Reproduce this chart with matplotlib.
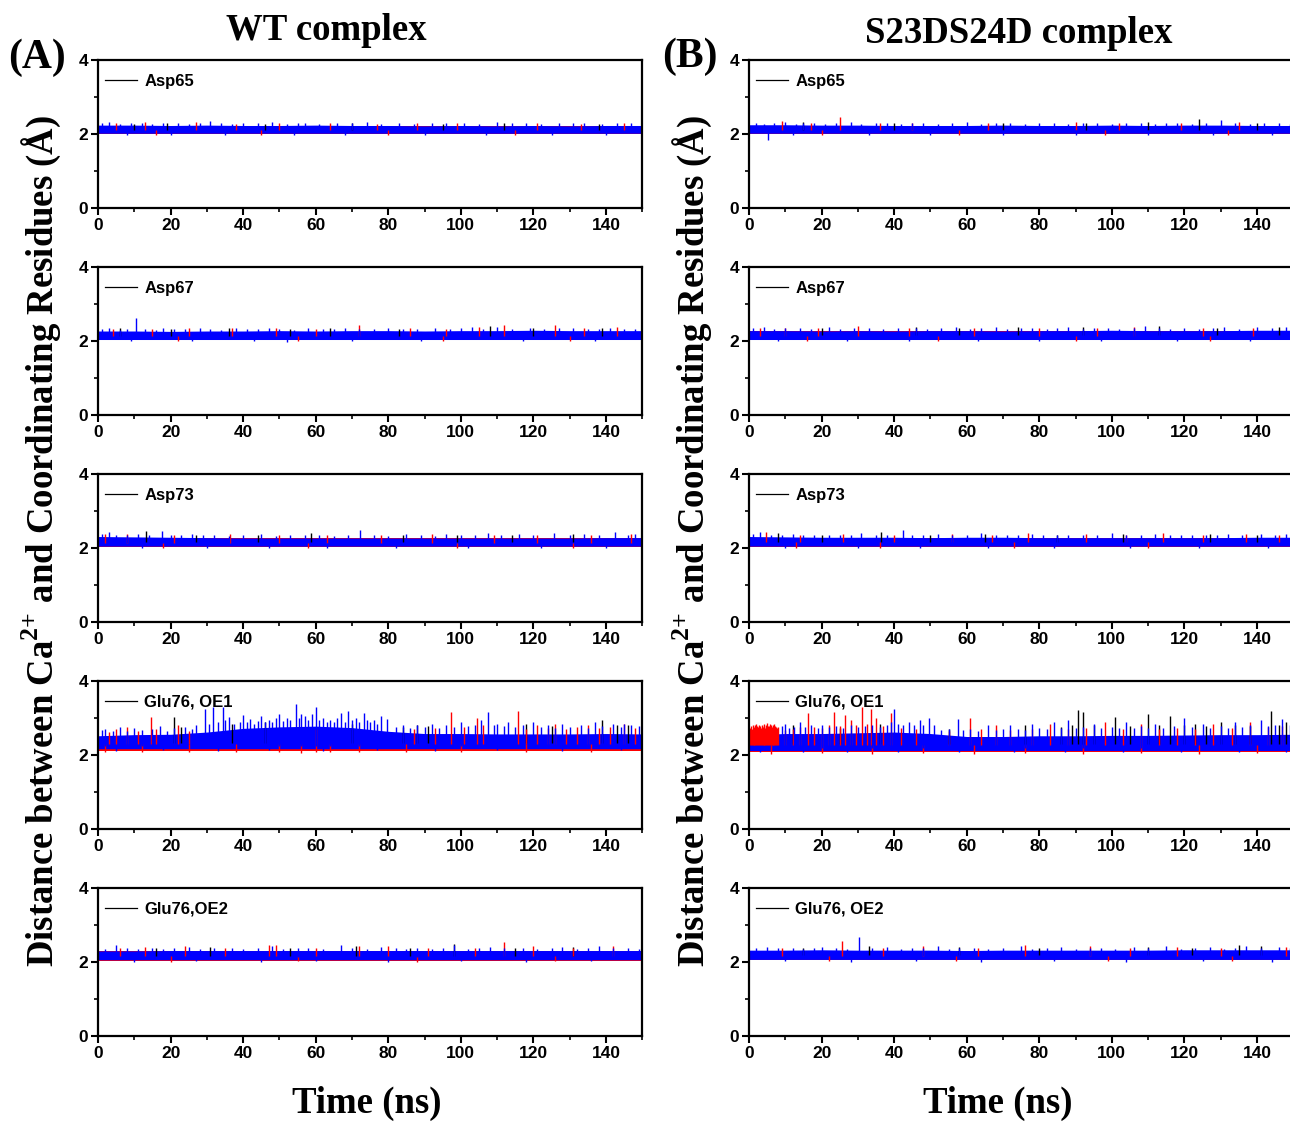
import matplotlib
matplotlib.use("Agg")
import matplotlib.pyplot as plt
from matplotlib.lines import Line2D
from matplotlib.ticker import MultipleLocator

# ---- data (distances in angstrom, time in ns) ----
band_t = [0, 10, 20, 30, 40, 50, 60, 70, 80, 90, 100, 110, 120, 130, 140, 150]

residues_wt = ["Asp65", "Asp67", "Asp73", "Glu76, OE1", "Glu76,OE2"]
residues_mut = ["Asp65", "Asp67", "Asp73", "Glu76, OE1", "Glu76, OE2"]

# top of the dense blue band at each band_t
wt_blue_top = [
    [2.24, 2.24, 2.23, 2.24, 2.23, 2.23, 2.24, 2.23, 2.23, 2.22, 2.23, 2.22, 2.23, 2.22, 2.23, 2.23],
    [2.27, 2.27, 2.26, 2.27, 2.27, 2.28, 2.27, 2.28, 2.28, 2.27, 2.28, 2.28, 2.29, 2.28, 2.28, 2.28],
    [2.31, 2.30, 2.29, 2.28, 2.27, 2.27, 2.27, 2.27, 2.27, 2.27, 2.27, 2.27, 2.27, 2.27, 2.28, 2.28],
    [2.52, 2.55, 2.56, 2.62, 2.72, 2.76, 2.78, 2.74, 2.64, 2.58, 2.58, 2.57, 2.57, 2.57, 2.58, 2.57],
    [2.30, 2.30, 2.31, 2.31, 2.31, 2.31, 2.31, 2.31, 2.31, 2.31, 2.31, 2.31, 2.31, 2.31, 2.31, 2.31],
]
mut_blue_top = [
    [2.25, 2.25, 2.24, 2.24, 2.23, 2.23, 2.23, 2.24, 2.23, 2.23, 2.24, 2.23, 2.24, 2.24, 2.23, 2.23],
    [2.28, 2.28, 2.27, 2.28, 2.27, 2.28, 2.28, 2.27, 2.28, 2.28, 2.29, 2.28, 2.28, 2.28, 2.29, 2.29],
    [2.31, 2.30, 2.29, 2.29, 2.29, 2.28, 2.29, 2.29, 2.28, 2.28, 2.28, 2.28, 2.28, 2.28, 2.29, 2.29],
    [2.55, 2.58, 2.58, 2.60, 2.62, 2.58, 2.50, 2.50, 2.52, 2.52, 2.53, 2.53, 2.54, 2.55, 2.55, 2.56],
    [2.32, 2.32, 2.33, 2.32, 2.32, 2.32, 2.31, 2.32, 2.32, 2.32, 2.32, 2.32, 2.33, 2.33, 2.33, 2.33],
]
wt_blue_bottom = [2.02, 2.04, 2.05, 2.17, 2.06]
mut_blue_bottom = [2.02, 2.04, 2.05, 2.12, 2.07]

# (bottom, top) of the red and black bands, mostly hidden under the blue one
wt_red_band = [(2.00, 2.21), (2.02, 2.25), (2.03, 2.26), (2.11, 2.50), (2.04, 2.29)]
wt_black_band = [(2.02, 2.21), (2.04, 2.25), (2.05, 2.26), (2.15, 2.50), (2.06, 2.29)]
mut_red_band = [(2.00, 2.22), (2.02, 2.26), (2.03, 2.27), (2.08, 2.48), (2.05, 2.30)]
mut_black_band = [(2.02, 2.22), (2.04, 2.26), (2.05, 2.27), (2.12, 2.48), (2.07, 2.30)]

# single excursions above / below the band (time, distance)
wt_blue_spikes = [
    [(1, 2.30), (3, 2.33), (6, 2.28), (9, 2.29), (12, 2.30), (15, 2.27), (18, 2.29), (22, 2.31),
     (25, 2.28), (28, 2.30), (31, 2.36), (34, 2.29), (37, 2.28), (40, 2.30), (44, 2.29), (48, 2.32),
     (52, 2.28), (55, 2.29), (57, 2.30), (61, 2.28), (66, 2.31), (70, 2.29), (74, 2.33), (78, 2.28),
     (83, 2.30), (87, 2.28), (92, 2.31), (96, 2.29), (101, 2.30), (105, 2.28), (110, 2.32), (114, 2.29),
     (118, 2.31), (122, 2.28), (127, 2.30), (131, 2.29), (134, 2.31), (139, 2.28), (143, 2.30), (147, 2.29),
     (8, 1.97), (20, 1.98), (35, 1.97), (54, 1.98), (68, 1.97), (90, 1.98), (107, 1.97), (125, 1.98), (140, 1.97)],
    [(1, 2.33), (3, 2.35), (6, 2.31), (8, 2.33), (10.5, 2.62), (13, 2.32), (16, 2.31), (18, 2.34),
     (21, 2.32), (24, 2.33), (28, 2.36), (31, 2.32), (34, 2.31), (38, 2.35), (41, 2.32), (44, 2.33),
     (47, 2.36), (50, 2.32), (54, 2.31), (58, 2.34), (62, 2.32), (65, 2.33), (68, 2.35), (72, 2.32),
     (76, 2.33), (80, 2.36), (84, 2.32), (88, 2.33), (93, 2.35), (97, 2.32), (100, 2.34), (103, 2.37),
     (106, 2.33), (110, 2.38), (114, 2.33), (119, 2.35), (123, 2.32), (127, 2.34), (131, 2.34),
     (135, 2.32), (138, 2.33), (141, 2.36), (145, 2.33), (148, 2.32),
     (9, 2.00), (26, 1.99), (43, 2.00), (52, 1.98), (70, 2.00), (89, 1.99), (117, 2.00), (137, 1.99)],
    [(1, 2.38), (3, 2.42), (5, 2.36), (8, 2.35), (11, 2.37), (14, 2.35), (17.7, 2.46), (20, 2.34),
     (23, 2.36), (26, 2.38), (29, 2.34), (32, 2.35), (36, 2.33), (40, 2.35), (45, 2.37), (49, 2.33),
     (53, 2.35), (57, 2.34), (61, 2.36), (65, 2.33), (69, 2.35), (72.2, 2.50), (76, 2.34), (80, 2.33),
     (85, 2.38), (89, 2.34), (93, 2.33), (96, 2.37), (100, 2.34), (104, 2.35), (107.5, 2.41), (111, 2.34),
     (116, 2.37), (120, 2.34), (125.7, 2.40), (130, 2.35), (134, 2.37), (138, 2.34), (142.5, 2.42),
     (146, 2.36), (148, 2.38),
     (12, 2.01), (30, 2.00), (47, 2.01), (63, 2.00), (82, 2.01), (102, 2.00), (122, 2.01), (140, 2.00)],
    [(1, 2.68), (2, 2.70), (4, 2.65), (6, 2.75), (8, 2.66), (10, 2.72), (12, 2.68), (15, 2.70),
     (17, 2.78), (19, 2.66), (21, 2.72), (24, 2.75), (26, 2.70), (27, 2.80), (29.4, 3.24),
     (30.5, 2.85), (31.7, 3.29), (33, 2.90), (34.4, 3.29), (35, 2.95), (36, 3.04), (37.5, 2.85),
     (39, 2.90), (40, 3.08), (41, 2.88), (42, 2.98), (43, 2.85), (44, 2.92), (45, 3.05), (46, 2.90),
     (47, 2.95), (48, 2.88), (49, 3.00), (50, 3.10), (51, 2.92), (52, 3.00), (53, 2.95), (54.7, 3.37),
     (55.5, 3.00), (56, 3.10), (57, 3.05), (58, 2.95), (59, 3.10), (60, 3.29), (61, 2.95), (62, 3.00),
     (63, 2.90), (64, 2.95), (65, 2.88), (66, 3.00), (67, 3.13), (68, 2.90), (69, 3.20), (70, 2.95),
     (71, 3.00), (72, 2.90), (73.3, 3.13), (74, 2.95), (75, 2.88), (76, 2.95), (77, 2.85), (78, 3.05),
     (79.7, 2.96), (82, 2.75), (84, 2.80), (86, 2.72), (88, 2.82), (90, 2.75), (92, 2.85), (94, 2.74),
     (96, 2.80), (98, 2.76), (100, 2.90), (102, 2.78), (104, 2.82), (105.5, 2.95), (107.4, 3.15),
     (109, 2.80), (110, 2.85), (112, 2.78), (113, 2.90), (115, 2.75), (117, 2.80), (120, 2.90),
     (122, 2.76), (124, 2.80), (126, 2.74), (128, 2.85), (130, 2.76), (133, 2.80), (135, 2.74),
     (137, 2.90), (139, 2.78), (142, 2.85), (144, 2.76), (145, 2.85), (147, 2.80), (149, 2.78),
     (5, 2.12), (18, 2.13), (33, 2.12), (47, 2.14), (62, 2.12), (77, 2.13), (93, 2.12), (110, 2.13),
     (128, 2.12), (144, 2.13)],
    [(2, 2.36), (5, 2.45), (8, 2.37), (11, 2.36), (15, 2.38), (18, 2.36), (21, 2.37), (25, 2.40),
     (28, 2.36), (32, 2.37), (37, 2.38), (40, 2.36), (44, 2.37), (48, 2.42), (51, 2.36), (55, 2.37),
     (58, 2.38), (62, 2.36), (67, 2.46), (70, 2.37), (74, 2.36), (78, 2.40), (82, 2.37), (85, 2.36),
     (88, 2.38), (92, 2.36), (95, 2.37), (98, 2.45), (102, 2.36), (105, 2.37), (108, 2.40), (112, 2.37),
     (117, 2.38), (121, 2.36), (125, 2.37), (128, 2.40), (132, 2.36), (135, 2.37), (138, 2.42),
     (142, 2.37), (146, 2.38), (149, 2.36),
     (10, 2.01), (27, 2.02), (45, 2.01), (60, 2.02), (80, 2.01), (100, 2.02), (118, 2.01), (136, 2.02)],
]
wt_red_spikes = [
    [(5, 2.29), (13, 2.33), (27, 2.32), (38, 2.28), (50, 2.31), (64, 2.29), (77, 2.28), (88, 2.31),
     (99, 2.29), (121, 2.30), (133, 2.28), (145, 2.29), (16, 1.97), (45, 1.98), (80, 1.97), (115, 1.98)],
    [(4, 2.33), (15, 2.32), (25, 2.36), (37, 2.34), (49, 2.35), (60, 2.33), (72, 2.43), (86, 2.34),
     (96, 2.33), (105, 2.37), (112, 2.43), (126, 2.42), (134, 2.34), (143, 2.39),
     (22, 1.99), (55, 1.99), (95, 1.99), (130, 1.99)],
    [(2, 2.38), (8, 2.37), (21, 2.35), (36.5, 2.39), (50, 2.35), (63, 2.36), (78, 2.35), (92, 2.37),
     (109, 2.35), (121, 2.36), (136, 2.35), (147, 2.38), (18, 2.00), (58, 2.00), (99, 2.00), (131, 2.00)],
    [(3, 2.62), (5, 2.70), (8, 2.75), (11, 2.65), (14.5, 3.04), (16, 2.70), (22, 2.80), (25, 2.65),
     (60, 2.70), (87, 2.70), (93, 2.72), (97.3, 3.17), (101, 2.75), (104.5, 2.99), (106, 2.80),
     (115.8, 3.20), (118, 2.70), (121, 2.80), (124, 2.72), (126, 2.85), (129, 2.70), (132, 2.75),
     (135, 2.80), (138, 2.72), (141, 2.75), (145, 2.85), (148, 2.72),
     (2, 2.08), (12, 2.09), (25, 2.08), (38, 2.07), (50, 2.07), (56, 2.06), (60, 2.08), (64, 2.07),
     (72, 2.08), (85, 2.07), (100, 2.09), (118, 2.08), (136, 2.07)],
    [(6, 2.37), (13, 2.40), (24, 2.44), (35, 2.38), (47, 2.47), (49, 2.45), (60, 2.37), (72, 2.42),
     (80, 2.44), (91, 2.38), (104, 2.39), (112, 2.54), (120, 2.42), (131, 2.38), (142, 2.44),
     (20, 2.01), (55, 2.02), (88, 2.01), (126, 2.02)],
]
wt_black_spikes = [
    [(10, 2.28), (19, 2.30), (46, 2.28), (70, 2.31), (95, 2.28), (112, 2.31), (138, 2.28)],
    [(6, 2.34), (20, 2.33), (36, 2.35), (53, 2.33), (64, 2.34), (83, 2.33), (108, 2.40), (120, 2.36), (139, 2.34)],
    [(13.3, 2.45), (27, 2.35), (44, 2.34), (58.7, 2.40), (84, 2.35), (99, 2.36), (114, 2.35), (131, 2.37)],
    [(21, 3.02), (23, 2.75), (37, 2.85), (46, 2.90), (70, 2.85), (84, 2.75), (88, 2.80), (91, 2.78),
     (118, 2.85), (125, 2.78), (139, 2.95), (143, 2.80), (146, 2.80)],
    [(16, 2.37), (31, 2.40), (53, 2.37), (71, 2.44), (86, 2.37), (98, 2.48), (115, 2.37), (131, 2.40)],
]
mut_blue_spikes = [
    [(2, 2.30), (4, 2.28), (5.3, 1.83), (7, 2.29), (10, 2.33), (13, 2.28), (15, 2.30), (18, 2.30),
     (21, 2.28), (24, 2.29), (28, 2.32), (31, 2.28), (35, 2.29), (38, 2.31), (42, 2.28), (45, 2.29),
     (48, 2.30), (52, 2.28), (56, 2.29), (60, 2.32), (64, 2.28), (68, 2.29), (72, 2.30), (76, 2.28),
     (80, 2.29), (84, 2.31), (88, 2.28), (92, 2.29), (96, 2.30), (100, 2.28), (104, 2.29), (108, 2.31),
     (112, 2.28), (115, 2.29), (118, 2.30), (122, 2.28), (126, 2.29), (130, 2.39), (134, 2.29),
     (138, 2.28), (142, 2.31), (146, 2.29), (149, 2.28),
     (12, 1.98), (33, 1.97), (50, 1.98), (70, 1.97), (90, 1.98), (110, 1.97), (128, 1.98), (144, 1.97)],
    [(1, 2.35), (4, 2.38), (7, 2.33), (10, 2.34), (14, 2.36), (17, 2.33), (22, 2.37), (25, 2.33),
     (29, 2.34), (33, 2.35), (37, 2.33), (41, 2.34), (46, 2.36), (49, 2.33), (53, 2.34), (57, 2.37),
     (61, 2.33), (64, 2.34), (68, 2.38), (71, 2.33), (75, 2.34), (78, 2.36), (82, 2.33), (85, 2.34),
     (88, 2.38), (92, 2.33), (95, 2.34), (99, 2.36), (102, 2.33), (106, 2.34), (109, 2.40), (113, 2.34),
     (116, 2.33), (120, 2.36), (124, 2.33), (128, 2.34), (131, 2.37), (135, 2.33), (140, 2.38),
     (144, 2.34), (148, 2.37),
     (8, 2.00), (27, 1.99), (44, 2.00), (63, 1.99), (80, 2.00), (97, 1.99), (118, 2.00), (138, 1.99)],
    [(1, 2.38), (3, 2.42), (6, 2.36), (9, 2.35), (12, 2.38), (15, 2.34), (18, 2.36), (22, 2.36),
     (25, 2.34), (28, 2.35), (31, 2.40), (35, 2.34), (38, 2.36), (42.4, 2.50), (45, 2.35), (48, 2.34),
     (52, 2.37), (56, 2.34), (60, 2.35), (64, 2.40), (68, 2.34), (71, 2.35), (74, 2.36), (78, 2.38),
     (81, 2.34), (85, 2.35), (88, 2.36), (92, 2.34), (96, 2.35), (100, 2.40), (104, 2.34), (108, 2.35),
     (112, 2.38), (116, 2.34), (119, 2.35), (122, 2.36), (126, 2.34), (129, 2.35), (132, 2.37),
     (136, 2.34), (141, 2.39), (145, 2.35), (148, 2.38),
     (10, 2.00), (30, 2.01), (47, 2.00), (66, 2.01), (84, 2.00), (105, 2.01), (124, 2.00), (143, 2.01)],
    [(9, 2.78), (10, 2.85), (11, 2.72), (12.5, 2.75), (14, 2.90), (15.5, 2.75), (17, 2.80), (19, 2.72),
     (20, 2.82), (22, 2.76), (24, 2.78), (26, 2.74), (28, 2.80), (30, 2.75), (32, 2.78), (34, 2.80),
     (36, 2.75), (38, 2.82), (39, 2.90), (40, 3.24), (41, 2.85), (42.5, 2.80), (44, 2.90), (45.5, 2.80),
     (47, 2.95), (48, 2.82), (49.6, 2.99), (51, 2.80), (53, 2.68), (55, 2.70), (57.5, 2.96), (59, 2.68),
     (61, 2.70), (63, 2.66), (66, 2.80), (68, 2.68), (70, 2.70), (72, 2.80), (74, 2.70), (76, 2.68),
     (78, 2.85), (80, 2.72), (82, 2.70), (84, 2.90), (86, 2.72), (88, 2.95), (90, 2.74), (92, 2.75),
     (95, 2.85), (97, 2.72), (100, 2.76), (102, 2.72), (104, 2.90), (106, 2.74), (108, 2.78), (110, 2.72),
     (112, 2.85), (114, 2.74), (117, 2.78), (120, 3.00), (122, 2.76), (125, 2.85), (127, 2.74),
     (130, 2.78), (132, 2.74), (134, 2.90), (136, 2.76), (138, 2.80), (141, 2.95), (143, 2.78),
     (145, 2.80), (147, 2.96), (149, 2.80),
     (3, 2.08), (15, 2.07), (27, 2.08), (41, 2.09), (58, 2.07), (73, 2.08), (87, 2.07), (103, 2.08),
     (119, 2.07), (135, 2.08), (148, 2.07)],
    [(2, 2.37), (5, 2.40), (8, 2.37), (12, 2.38), (15, 2.36), (18, 2.37), (20, 2.40), (24, 2.37),
     (27, 2.36), (30.3, 2.67), (34, 2.37), (38, 2.40), (42, 2.36), (45, 2.37), (48, 2.38), (52, 2.42),
     (55, 2.36), (58, 2.37), (62, 2.38), (66, 2.36), (70, 2.37), (75, 2.42), (78, 2.36), (82, 2.37),
     (86, 2.40), (90, 2.36), (94, 2.37), (97, 2.38), (101, 2.36), (106, 2.40), (110, 2.37), (115, 2.42),
     (119, 2.36), (123, 2.37), (127, 2.40), (131, 2.36), (134, 2.38), (137, 2.44), (141, 2.38),
     (146, 2.40), (149, 2.37),
     (10, 2.02), (28, 2.01), (46, 2.02), (64, 2.01), (84, 2.02), (104, 2.01), (125, 2.02), (144, 2.01)],
]
mut_red_spikes = [
    [(9, 2.36), (17, 2.29), (25, 2.46), (36, 2.29), (45, 2.31), (66, 2.29), (90, 2.32), (102, 2.29),
     (119, 2.29), (135, 2.32), (20, 1.98), (58, 1.98), (98, 1.98), (132, 1.98)],
    [(3, 2.34), (10, 2.36), (19, 2.34), (30, 2.40), (44, 2.34), (62, 2.36), (80, 2.34), (96, 2.35),
     (106, 2.38), (125, 2.35), (139, 2.34), (16, 1.99), (52, 2.00), (90, 1.99), (127, 2.00)],
    [(4.6, 2.44), (14, 2.36), (26, 2.38), (40, 2.35), (56, 2.37), (67, 2.35), (77, 2.40), (93, 2.38),
     (104, 2.36), (114, 2.40), (125, 2.35), (137, 2.37), (146, 2.36),
     (13, 2.00), (36, 2.00), (73, 2.00), (110, 2.00)],
    [(0.25, 2.74), (0.5, 2.78), (0.75, 2.70), (1, 2.80), (1.25, 2.76), (1.5, 2.72), (1.75, 2.80),
     (2, 2.85), (2.25, 2.78), (2.5, 2.76), (2.75, 2.81), (3, 2.78), (3.25, 2.73), (3.5, 2.82),
     (3.75, 2.77), (4, 2.83), (4.25, 2.79), (4.5, 2.74), (4.75, 2.80), (5, 2.86), (5.25, 2.78),
     (5.5, 2.79), (5.75, 2.83), (6, 2.80), (6.25, 2.76), (6.5, 2.75), (6.75, 2.81), (7, 2.84),
     (7.25, 2.78), (7.5, 2.76), (7.75, 2.72), (8, 2.75),
     (10, 2.68), (12, 2.70), (14, 2.75), (16.2, 3.14), (18, 2.75), (20, 2.72), (22, 2.80), (23.3, 3.17),
     (25, 2.78), (26.4, 3.08), (28, 2.95), (29.5, 2.80), (31.2, 3.29), (32.5, 2.85), (33.6, 3.24),
     (35, 3.00), (37, 2.78), (39.2, 3.13), (42, 2.72), (46, 2.70), (55, 2.65), (61, 3.00), (64, 2.70),
     (68, 2.80), (72, 2.68), (78, 2.70), (83, 2.85), (88, 2.70), (93, 2.72), (98, 2.90), (103, 2.70),
     (108, 2.85), (113, 2.70), (118, 2.72), (123, 2.70), (128, 2.85), (133, 2.72), (138, 2.90),
     (143, 2.75), (147, 2.78),
     (6, 2.04), (20, 2.05), (34, 2.04), (48, 2.05), (62, 2.04), (76, 2.05), (92, 2.04), (108, 2.05),
     (124, 2.04), (140, 2.05)],
    [(9, 2.38), (25.7, 2.58), (37, 2.38), (48, 2.42), (63, 2.38), (76, 2.45), (94, 2.43), (105, 2.38),
     (118, 2.40), (130, 2.38), (148, 2.40), (22, 2.02), (57, 2.03), (99, 2.02), (133, 2.03)],
]
mut_black_spikes = [
    [(15, 2.32), (40, 2.29), (70, 2.31), (93, 2.29), (110, 2.33), (124, 2.40), (140, 2.29)],
    [(20, 2.36), (46, 2.37), (58, 2.35), (74, 2.39), (92, 2.38), (113, 2.41), (129, 2.36), (146, 2.39)],
    [(8, 2.40), (20, 2.36), (36.5, 2.43), (50, 2.36), (65, 2.38), (85, 2.36), (103, 2.37), (127, 2.38), (140, 2.36)],
    [(12, 2.80), (25, 2.72), (36, 2.85), (55, 2.70), (76, 2.80), (86, 2.75), (89, 2.80), (90.7, 3.22),
     (92, 3.17), (95, 2.80), (101, 3.04), (105, 2.78), (110, 3.11), (113, 2.80), (116, 3.05), (120, 2.80),
     (123, 2.85), (126, 2.78), (130, 2.90), (134, 2.80), (138, 2.78), (143.9, 3.20), (146, 2.80), (148, 2.90)],
    [(15, 2.38), (33, 2.42), (58, 2.40), (80, 2.38), (110, 2.40), (122, 2.39), (135, 2.46), (141, 2.44)],
]

plt.rcParams["font.family"] = "Liberation Sans"
plt.rcParams["font.weight"] = "bold"
plt.rcParams["mathtext.fontset"] = "custom"
plt.rcParams["mathtext.rm"] = "Liberation Serif:bold"

W, H = 1290, 1124
fig = plt.figure(figsize=(W / 100, H / 100), dpi=100)


def draw_spikes(ax, spikes, base, color):
    ts = [s[0] for s in spikes]
    ys = [s[1] for s in spikes]
    ax.vlines(ts, base, ys, color=color, lw=1.0)


def draw_panel(ax, name, blue_top, blue_bottom, red_band, black_band,
               blue_sp, red_sp, black_sp):
    ax.fill_between([0, 150], black_band[0], black_band[1], color="black", lw=0)
    draw_spikes(ax, black_sp, sum(black_band) / 2, "black")
    ax.fill_between([0, 150], red_band[0], red_band[1], color="red", lw=0)
    draw_spikes(ax, red_sp, sum(red_band) / 2, "red")
    ax.fill_between(band_t, blue_bottom, blue_top, color="blue", lw=0)
    draw_spikes(ax, blue_sp, blue_bottom + 0.08, "blue")

    ax.set_xlim(0, 150)
    ax.set_ylim(0, 4)
    ax.set_xticks(range(0, 141, 20))
    ax.set_yticks([0, 2, 4])
    ax.xaxis.set_minor_locator(MultipleLocator(10))
    ax.yaxis.set_minor_locator(MultipleLocator(1))
    ax.tick_params(which="major", direction="out", length=5, width=1.5, labelsize=12.5, pad=2)
    ax.tick_params(which="minor", direction="out", length=3, width=1.2)
    for sp in ax.spines.values():
        sp.set_linewidth(1.6)
    ax.legend(handles=[Line2D([], [], color="black", lw=0.9)], labels=[name],
              loc="upper left", bbox_to_anchor=(-0.002, 0.965), frameon=False,
              handlelength=1.9, handletextpad=0.45, borderaxespad=0.1,
              prop={"weight": "bold", "size": 12})


col_left = [98, 749]
for col in range(2):
    if col == 0:
        names, tops, bottoms = residues_wt, wt_blue_top, wt_blue_bottom
        reds, blacks = wt_red_band, wt_black_band
        bsp, rsp, ksp = wt_blue_spikes, wt_red_spikes, wt_black_spikes
    else:
        names, tops, bottoms = residues_mut, mut_blue_top, mut_blue_bottom
        reds, blacks = mut_red_band, mut_black_band
        bsp, rsp, ksp = mut_blue_spikes, mut_red_spikes, mut_black_spikes
    for row in range(5):
        bottom_px = 208 + 207 * row
        ax = fig.add_axes([col_left[col] / W, 1 - bottom_px / H, 544.3 / W, 148 / H])
        draw_panel(ax, names[row], tops[row], bottoms[row], reds[row], blacks[row],
                   bsp[row], rsp[row], ksp[row])

serif = {"family": "Liberation Serif", "weight": "bold"}
fig.text(326 / W, 1 - 40 / H, "WT complex", ha="center", va="baseline", size=26.5, **serif)
fig.text(1019 / W, 1 - 43 / H, "S23DS24D complex", ha="center", va="baseline", size=26.5, **serif)
fig.text(8 / W, 1 - 68 / H, "(A)", ha="left", va="baseline", size=30, **serif)
fig.text(662 / W, 1 - 67 / H, "(B)", ha="left", va="baseline", size=30, **serif)

ylab = r"Distance between Ca$^{\mathrm{2{+}}}$ and Coordinating Residues (Å)"
fig.text(41 / W, 1 - 541 / H, ylab, rotation=90, ha="center", va="center", size=26.5, **serif)
fig.text(692 / W, 1 - 541 / H, ylab, rotation=90, ha="center", va="center", size=26.5, **serif)
fig.text(367 / W, 1 - 1103 / H, "Time (ns)", ha="center", va="center", size=26.5, **serif)
fig.text(998 / W, 1 - 1103 / H, "Time (ns)", ha="center", va="center", size=26.5, **serif)

fig.savefig("out.png", dpi=100)
